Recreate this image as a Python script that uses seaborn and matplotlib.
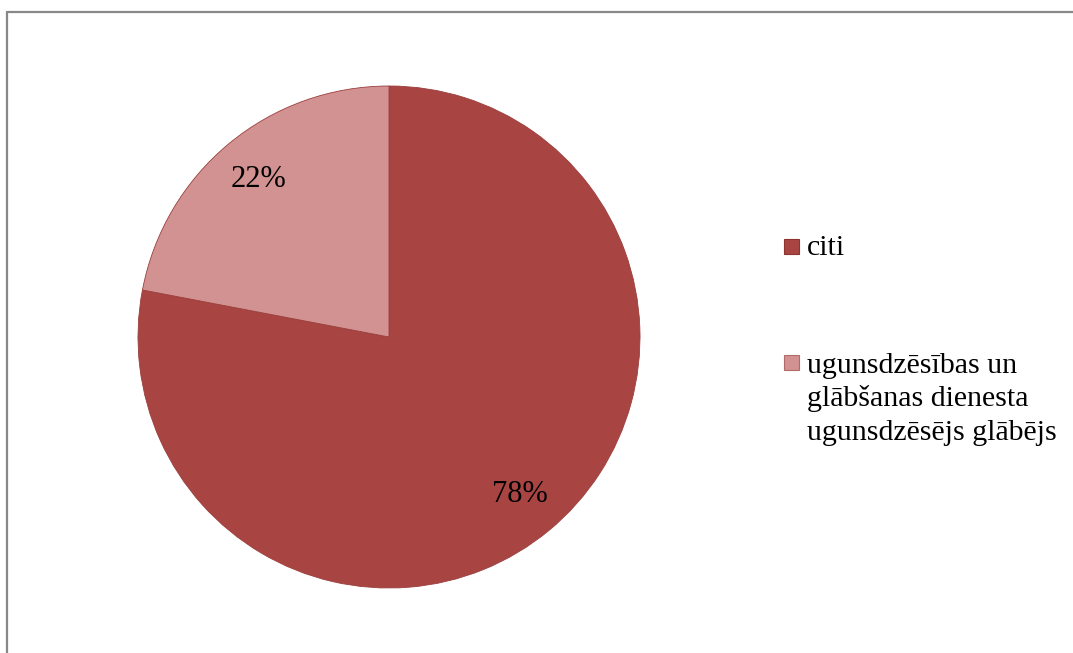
import matplotlib
matplotlib.use("Agg")
import matplotlib.pyplot as plt
from matplotlib.lines import Line2D
from matplotlib.patches import Rectangle
import numpy as np
import seaborn as sns

categories = ["citi", "ugunsdzēsības un\nglābšanas dienesta\nugunsdzēsējs glābējs"]
values = [78, 22]
pct_labels = ["78%", "22%"]
colors = ["#A84543", "#D29291"]
edge_colors = ["#8E3331", "#B36A68"]

sns.set_theme(style="white")
plt.rcParams["font.family"] = ["Liberation Serif", "DejaVu Serif"]

W, H = 1073, 653
fig = plt.figure(figsize=(W / 100, H / 100), dpi=100)
fig.patch.set_facecolor("white")

cx, cy, r = 389, 337, 251
ax = fig.add_axes([(cx - r) / W, (H - cy - r) / H, 2 * r / W, 2 * r / H])
wedges, _ = ax.pie(values, colors=colors, startangle=90, counterclock=False,
                   wedgeprops=dict(edgecolor="#9A3E3C", linewidth=0.6))
ax.set_xlim(-1, 1)
ax.set_ylim(-1, 1)
for w, lab in zip(wedges, pct_labels):
    mid = np.deg2rad((w.theta1 + w.theta2) / 2)
    ax.text(0.815 * np.cos(mid), 0.815 * np.sin(mid), lab, ha="center", va="center",
            fontsize=22, color="black")
ax.axis("off")

# legend (manual, to keep square aligned with first text line)
sq_y = [246, 362]
base_y = [255, 373]
line_step = 33.5
fs = 21.5
for cat, col, ec, sy, by in zip(categories, colors, edge_colors, sq_y, base_y):
    fig.patches.append(Rectangle((784 / W, (H - sy - 7.5) / H), 15 / W, 15 / H,
                                 transform=fig.transFigure, facecolor=col,
                                 edgecolor=ec, linewidth=0.8))
    for i, line in enumerate(cat.split("\n")):
        fig.text(807 / W, (H - by - i * line_step) / H, line, ha="left",
                 va="baseline", fontsize=fs, color="black")

# frame lines (top and left)
fig.add_artist(Line2D([7 / W, 1.0], [(H - 12) / H, (H - 12) / H], color="#888888",
                      linewidth=1.6, transform=fig.transFigure))
fig.add_artist(Line2D([7 / W, 7 / W], [0, (H - 12) / H], color="#888888",
                      linewidth=1.6, transform=fig.transFigure))

fig.savefig("out.png", dpi=100, facecolor="white")
